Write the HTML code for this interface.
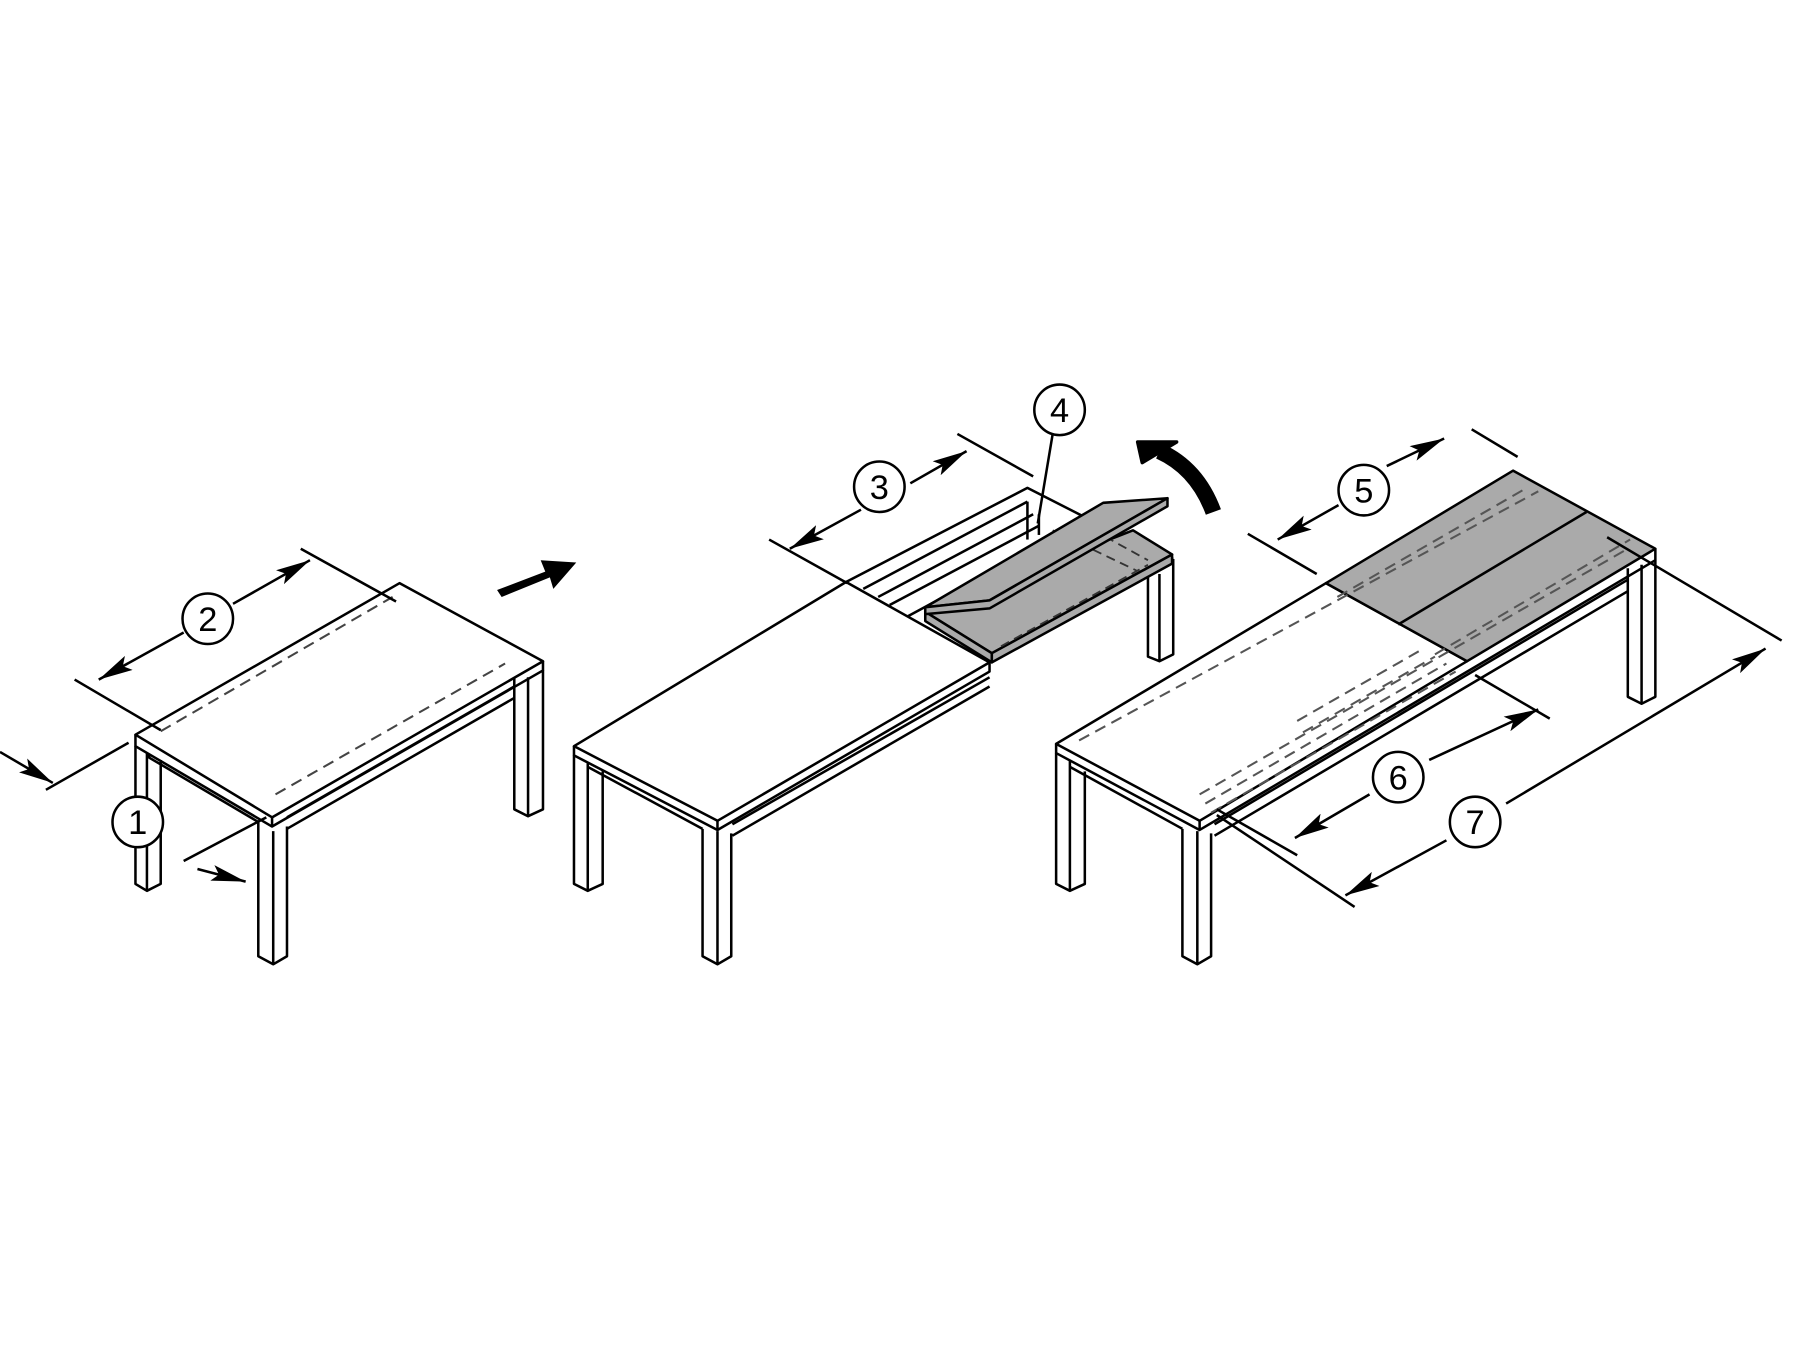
<!DOCTYPE html>
<html><head><meta charset="utf-8"><style>
html,body{margin:0;padding:0;background:#fff;}
svg{display:block}
text{font-family:"Liberation Sans",sans-serif;font-size:30px;text-anchor:middle;dominant-baseline:central}
</style></head><body>
<svg width="1800" height="1350" viewBox="0 0 1568 1176" xmlns="http://www.w3.org/2000/svg">
<defs>
<marker id="ab" viewBox="0 0 30 14" refX="30" refY="7" markerWidth="30" markerHeight="14" orient="auto" markerUnits="userSpaceOnUse"><path d="M0,0 L30,7 L0,14 L6,7 z" fill="#000"/></marker>
</defs>
<g fill="none" stroke="#000" stroke-width="2.2" stroke-linejoin="round">
<!-- TABLE 1 -->
<polygon points="118,640 348,508 473,576 237,712" fill="#fff"/>
<polyline points="118,640 118,650 237,720 473,584 473,576"/>
<line x1="237" y1="712" x2="237" y2="720"/>
<polyline points="130,657 130,660 225,716"/>
<line x1="250" y1="722" x2="448" y2="608"/>
<line x1="250" y1="712" x2="448" y2="598"/>
<polyline points="225,716 225,833 238,840 250,833 250,720"/>
<line x1="238" y1="724" x2="238" y2="840"/>
<polyline points="118,650 118,770 128,776 140,770 140,662"/>
<polyline points="448,590 448,705 460,711 473,705 473,584"/>
<line x1="460" y1="590" x2="460" y2="711"/>
<line x1="128" y1="656" x2="128" y2="776"/>
<g stroke="#444" stroke-dasharray="10,6" stroke-width="1.8">
<line x1="140" y1="637" x2="342" y2="520"/>
<line x1="240" y1="692" x2="440" y2="578"/>
</g>
<line x1="65" y1="592" x2="140" y2="636"/>
<line x1="262" y1="478" x2="345" y2="524"/>
<line x1="160" y1="551" x2="86" y2="592" marker-end="url(#ab)"/>
<line x1="203" y1="526" x2="270" y2="488" marker-end="url(#ab)"/>
<line x1="0" y1="655" x2="46" y2="682" marker-end="url(#ab)"/>
<line x1="40" y1="688" x2="112" y2="647"/>
<line x1="160" y1="750" x2="232" y2="712"/>
<line x1="172" y1="757" x2="214" y2="768" marker-end="url(#ab)"/>
<!-- TABLE 2 -->
<polygon points="737,507 895,425 948,452 785,540" fill="#fff"/>
<line x1="752" y1="513" x2="895" y2="437"/>
<line x1="765" y1="520" x2="900" y2="448"/>
<line x1="775" y1="527" x2="905" y2="458"/>
<polyline points="895,437 895,470"/>
<polyline points="905,448 905,466"/>
<line x1="948" y1="452" x2="1022" y2="487"/>
<polyline points="1000,497 1000,572 1010,576 1022,570 1022,487"/>
<line x1="1010" y1="500" x2="1010" y2="576"/>
<!-- lower leaf -->
<polygon points="806,533 987,462 1021,483 864,569" fill="#aaa"/>
<polygon points="806,533 806,541 864,577 864,569" fill="#aaa"/>
<polygon points="864,569 864,577 1021,491 1021,483" fill="#aaa"/>
<g stroke="#333" stroke-dasharray="8,5" stroke-width="1.6">
<line x1="872" y1="563" x2="1000" y2="492"/>
<line x1="917" y1="462" x2="990" y2="497"/>
<line x1="940" y1="455" x2="1000" y2="488"/>
</g>
<!-- upper flipped leaf -->
<polygon points="806,529 961,438 1017,434 862,523" fill="#aaa"/>
<polygon points="806,529 862,523 1017,434 1017,441 862,530 806,535" fill="#aaa"/>
<!-- top -->
<polygon points="500,650 737,507 862,577 625,715" fill="#fff"/>
<polyline points="500,650 500,658 625,723 862,585 862,577"/>
<line x1="625" y1="715" x2="625" y2="723"/>
<line x1="638" y1="728" x2="862" y2="598"/>
<line x1="638" y1="718" x2="862" y2="590"/>
<line x1="512" y1="668" x2="612" y2="722"/>
<polyline points="612,722 612,833 625,840 637,833 637,726"/>
<line x1="625" y1="724" x2="625" y2="840"/>
<polyline points="500,658 500,770 512,776 525,770 525,672"/>
<line x1="512" y1="665" x2="512" y2="776"/>
<line x1="670" y1="470" x2="738" y2="508"/>
<line x1="834" y1="378" x2="900" y2="415"/>
<line x1="750" y1="444" x2="688" y2="478" marker-end="url(#ab)"/>
<line x1="793" y1="421" x2="842" y2="393" marker-end="url(#ab)"/>
<line x1="917" y1="378" x2="904" y2="456"/>
<!-- TABLE 3 -->
<polygon points="920,648 1155,508 1278,576 1045,715" fill="#fff"/>
<polygon points="1155,508 1318,410 1442,478 1278,576" fill="#aaa"/>
<line x1="1218" y1="544" x2="1382" y2="446"/>
<polyline points="920,648 920,656 1045,723 1442,488 1442,478"/>
<line x1="1045" y1="715" x2="1045" y2="723"/>
<line x1="1058" y1="728" x2="1418" y2="515"/>
<line x1="1058" y1="718" x2="1418" y2="505"/>
<line x1="932" y1="668" x2="1030" y2="722"/>
<polyline points="1030,722 1030,833 1043,840 1055,833 1055,726"/>
<line x1="1043" y1="724" x2="1043" y2="840"/>
<polyline points="920,656 920,770 932,776 945,770 945,672"/>
<line x1="932" y1="663" x2="932" y2="776"/>
<polyline points="1418,495 1418,607 1430,613 1442,607 1442,488"/>
<line x1="1430" y1="492" x2="1430" y2="613"/>
<g stroke="#555" stroke-dasharray="10,6" stroke-width="1.8">
<line x1="940" y1="645" x2="1340" y2="428"/>
<line x1="1045" y1="692" x2="1418" y2="478"/>
<line x1="1050" y1="700" x2="1260" y2="578"/>
<line x1="1055" y1="708" x2="1268" y2="585"/>
<line x1="1130" y1="628" x2="1240" y2="565"/>
<line x1="1135" y1="638" x2="1250" y2="572"/>
<line x1="1165" y1="520" x2="1330" y2="425"/>
<line x1="1250" y1="570" x2="1420" y2="470"/>
</g>
<!-- dim 5 -->
<line x1="1087" y1="465" x2="1147" y2="500"/>
<line x1="1282" y1="374" x2="1322" y2="398"/>
<line x1="1166" y1="440" x2="1113" y2="470" marker-end="url(#ab)"/>
<line x1="1208" y1="406" x2="1258" y2="382" marker-end="url(#ab)"/>
<!-- dim 6 -->
<line x1="1060" y1="705" x2="1130" y2="745"/>
<line x1="1285" y1="588" x2="1350" y2="626"/>
<line x1="1193" y1="692" x2="1128" y2="730" marker-end="url(#ab)"/>
<line x1="1245" y1="662" x2="1340" y2="618" marker-end="url(#ab)"/>
<!-- dim 7 -->
<line x1="1060" y1="710" x2="1180" y2="790"/>
<line x1="1400" y1="468" x2="1552" y2="558"/>
<line x1="1260" y1="732" x2="1172" y2="780" marker-end="url(#ab)"/>
<line x1="1312" y1="700" x2="1538" y2="565" marker-end="url(#ab)"/>
</g>
<!-- big arrows -->
<polygon points="433,514 475,498 471,488 502,490 482,513 479,503 437,520" fill="#000"/>
<path d="M1057,446 Q1043,408 1010,393" fill="none" stroke="#000" stroke-width="14"/>
<polygon points="991,385 1025,385 995,403" fill="#000" stroke="#000" stroke-width="3" stroke-linejoin="round"/>
<g fill="#fff" stroke="#000" stroke-width="2.2">
<circle cx="120" cy="716" r="22"/><circle cx="181" cy="539" r="22"/>
<circle cx="766" cy="424" r="22"/><circle cx="923" cy="357" r="22"/>
<circle cx="1188" cy="427" r="22"/><circle cx="1218" cy="677" r="22"/>
<circle cx="1285" cy="716" r="22"/>
</g>
<text x="120" y="717">1</text><text x="181" y="540">2</text><text x="766" y="425">3</text>
<text x="923" y="358">4</text><text x="1188" y="428">5</text><text x="1218" y="678">6</text><text x="1285" y="717">7</text>
</svg>
</body></html>
